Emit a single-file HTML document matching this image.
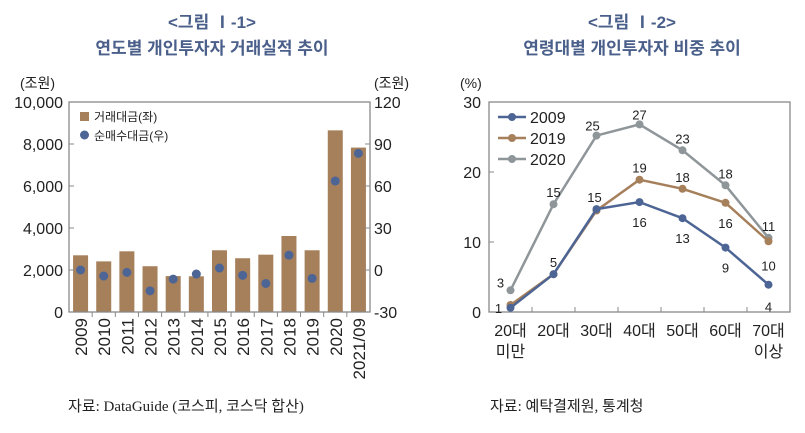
<!DOCTYPE html>
<html><head><meta charset="utf-8"><style>
body{margin:0;background:#fff;}
svg text{font-family:"Liberation Sans","Noto Sans CJK KR",sans-serif;}
</style></head><body>
<svg id="s" width="805" height="428" viewBox="0 0 805 428" xmlns="http://www.w3.org/2000/svg">
<g fill="#4a5f8a" font-weight="bold" font-size="17" text-anchor="middle">
<text x="212" y="28">&lt;그림 Ⅰ-1&gt;</text>
<text x="212" y="54">연도별 개인투자자 거래실적 추이</text>
<text x="632" y="28">&lt;그림 Ⅰ-2&gt;</text>
<text x="632" y="54">연령대별 개인투자자 비중 추이</text>
</g>
<text x="68" y="411" font-size="15" fill="#222" style="font-family:'Liberation Serif','Noto Sans CJK KR',serif">자료: DataGuide (코스피, 코스닥 합산)</text>
<text x="490" y="411" font-size="15" fill="#222" style="font-family:'Liberation Serif','Noto Sans CJK KR',serif">자료: 예탁결제원, 통계청</text>
<g id="c1"></g><g id="c2"></g>
</svg>
<script>
const years=["2009","2010","2011","2012","2013","2014","2015","2016","2017","2018","2019","2020","2021/09"];
const tradeValue=[2700,2410,2890,2180,1710,1700,2940,2560,2730,3620,2940,8650,7830];
const netBuy=[0,-4.3,-1.7,-14.9,-6.5,-2.9,1.4,-3.8,-9.6,10.6,-6,63.6,83.3];
const leftTicks=[0,2000,4000,6000,8000,10000];
const rightTicks=[-30,0,30,60,90,120];
const ages=[["20대","미만"],["20대"],["30대"],["40대"],["50대"],["60대"],["70대","이상"]];
const s2009=[0.6,5.4,14.7,15.7,13.4,9.2,3.9];
const s2019=[1.0,5.4,14.5,18.9,17.6,15.6,10.1];
const s2020=[3.1,15.4,25.2,26.8,23.1,18.1,10.6];
const pctTicks=[0,10,20,30];
const NS="http://www.w3.org/2000/svg";
function mk(p,t,a,txt){const e=document.createElementNS(NS,t);for(const k in a)e.setAttribute(k,a[k]);if(txt!==undefined)e.textContent=txt;p.appendChild(e);return e;}
const c1=document.getElementById('c1');
const L=69,R=370,T=102,B=312;
const yL=v=>B-(v/10000)*(B-T);
const yR=v=>B-((v+30)/150)*(B-T);
const bw=(R-L)/years.length;
const xC=i=>L+bw*(i+0.5);
years.forEach((y,i)=>{
 let r=mk(c1,'rect',{x:xC(i)-7.5,y:yL(tradeValue[i]),width:15,height:B-yL(tradeValue[i]),fill:'#a67f5b'});
 
 
});
years.forEach((y,i)=>{
 let c=mk(c1,'circle',{cx:xC(i),cy:yR(netBuy[i]),r:4.5,fill:'#4d6595'});
 
 
 let t=mk(c1,'text',{transform:`translate(${xC(i)+6.5},${B+6}) rotate(-90)`,'text-anchor':'end','font-size':17,fill:'#222'},y);
 
 
 if(i>0)mk(c1,'line',{x1:L+bw*i,x2:L+bw*i,y1:B,y2:B+5,stroke:'#888'});
});
mk(c1,'rect',{x:L,y:T,width:R-L,height:B-T,fill:'none',stroke:'#888','stroke-width':1.3});
leftTicks.forEach(v=>{
 let t=mk(c1,'text',{x:L-6,y:yL(v)+6,'text-anchor':'end','font-size':16,fill:'#222'},v.toLocaleString('en-US'));
 
 
 mk(c1,'line',{x1:L,x2:L+5,y1:yL(v),y2:yL(v),stroke:'#888'});
});
rightTicks.forEach(v=>{
 let t=mk(c1,'text',{x:R+4,y:yR(v)+6,'font-size':16,fill:'#222'},String(v));
 
 
 mk(c1,'line',{x1:R-5,x2:R,y1:yR(v),y2:yR(v),stroke:'#888'});
});
let u=mk(c1,'text',{x:20,y:88,'font-size':14,fill:'#222'},'(조원)');
u=mk(c1,'text',{x:374,y:88,'font-size':14,fill:'#222'},'(조원)');
mk(c1,'rect',{x:80,y:112,width:9,height:9,fill:'#a67f5b'});
u=mk(c1,'text',{x:94,y:121,'font-size':12,fill:'#222'},'거래대금(좌)');
mk(c1,'circle',{cx:84.5,cy:135,r:4.5,fill:'#4d6595'});
u=mk(c1,'text',{x:94,y:140,'font-size':12,fill:'#222'},'순매수대금(우)');
const c2=document.getElementById('c2');
const L2=489,R2=790;
const y2=v=>B-(v/30)*(B-T);
const w2=(R2-L2)/ages.length;
const x2=i=>L2+w2*(i+0.5);
mk(c2,'rect',{x:L2,y:T,width:R2-L2,height:B-T,fill:'none',stroke:'#888','stroke-width':1.3});
pctTicks.forEach(v=>{
 let t=mk(c2,'text',{x:L2-8,y:y2(v)+6,'text-anchor':'end','font-size':16,fill:'#222'},String(v));
 
 
 mk(c2,'line',{x1:L2,x2:L2+5,y1:y2(v),y2:y2(v),stroke:'#888'});
});
u=mk(c2,'text',{x:460,y:88,'font-size':14,fill:'#222'},'(%)');
ages.forEach((a,i)=>{
 if(i>0)mk(c2,'line',{x1:L2+w2*i,x2:L2+w2*i,y1:B,y2:B-5,stroke:'#888'});
 a.forEach((ln,j)=>{
  let t=mk(c2,'text',{x:x2(i),y:336+j*21,'text-anchor':'middle','font-size':16,fill:'#222'},ln);
  
  
 });
});
const series=[["2009",s2009,'#4d6595'],["2019",s2019,'#a67f5b'],["2020",s2020,'#8f9699']];
[series[2],series[1],series[0]].forEach(([nm,d,col])=>{
 let p=mk(c2,'polyline',{points:d.map((v,i)=>x2(i)+','+y2(v)).join(' '),fill:'none',stroke:col,'stroke-width':2.5});
 
 
 d.forEach((v,i)=>{
  let c=mk(c2,'circle',{cx:x2(i),cy:y2(v),r:4,fill:col});
  
  
 });
});
const lab=[[s2020,0,-10,-8],[s2020,1,0,-12],[s2020,2,-4,-10],[s2020,3,0,-10],[s2020,4,0,-12],[s2020,5,0,-12],[s2020,6,0,-12],
[s2009,0,-12,0],[s2009,1,0,-12],[s2009,2,-2,-12],[s2009,3,0,20],[s2009,4,0,20],[s2009,5,0,20],[s2009,6,0,22],
[s2019,3,0,-12],[s2019,4,0,-12],[s2019,5,0,20],[s2019,6,0,24]];
lab.forEach(([d,i,dx,dy])=>{
 let t=mk(c2,'text',{x:x2(i)+dx,y:y2(d[i])+dy+5,'text-anchor':'middle','font-size':13,fill:'#222'},String(Math.round(d[i])));
 
 
});
series.forEach(([nm,d,col],k)=>{
 const yy=117+k*21;
 mk(c2,'line',{x1:498,x2:526,y1:yy,y2:yy,stroke:col,'stroke-width':2.5});
 mk(c2,'circle',{cx:512,cy:yy,r:4,fill:col});
 let t=mk(c2,'text',{x:530,y:yy+6,'font-size':16,fill:'#222'},nm);
 
 
});
</script>
</body></html>
